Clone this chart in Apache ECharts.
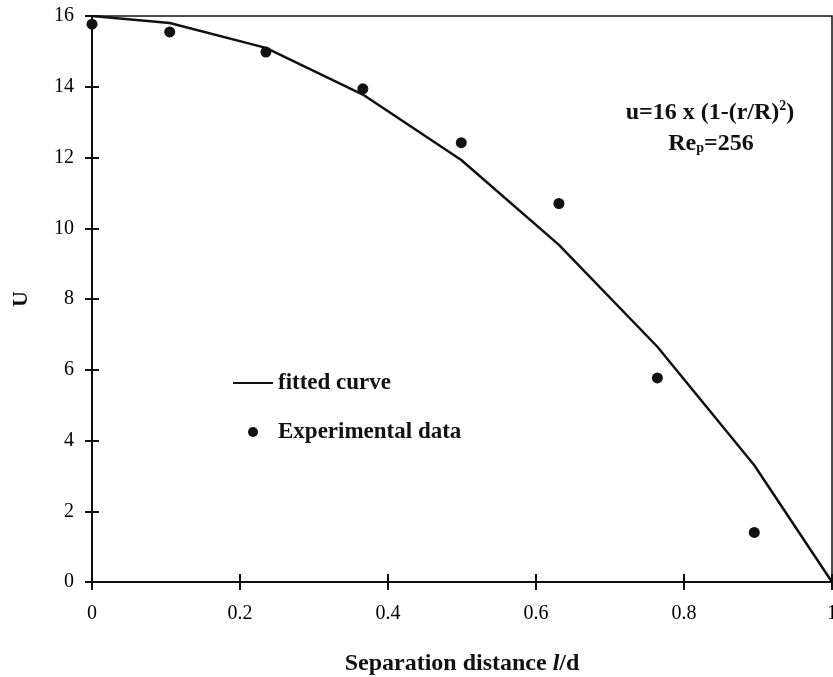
<!DOCTYPE html>
<html>
<head>
<meta charset="utf-8">
<script src="https://cdn.jsdelivr.net/npm/echarts@6/dist/echarts.min.js"></script>
<style>html,body{margin:0;padding:0;background:#fff;}#c{width:833px;height:677px;}</style>
</head>
<body>
<div id="c"></div>
<script>
// Data
var expX = [0, 0.105, 0.235, 0.366, 0.499, 0.631, 0.764, 0.895];
var expU = [15.77, 15.55, 14.98, 13.94, 12.42, 10.7, 5.77, 1.4];
var fitX = [0, 0.105, 0.235, 0.366, 0.499, 0.631, 0.764, 0.895, 1];
var fitU = [16, 15.8, 15.1, 13.78, 11.93, 9.53, 6.65, 3.3, 0];
var xTicks = [0, 0.2, 0.4, 0.6, 0.8, 1];
var yTicks = [0, 2, 4, 6, 8, 10, 12, 14, 16];

var serif = '"Liberation Serif", "Times New Roman", serif';
var expData = expX.map(function (x, i) { return [x, expU[i]]; });
var fitData = fitX.map(function (x, i) { return [x, fitU[i]]; });

var chart = echarts.init(document.getElementById('c'));
var tickLabelStyle = { color: '#000', fontFamily: serif, fontSize: 20 };
chart.setOption({
  backgroundColor: '#fff',
  animation: false,
  grid: { left: 92, right: 1, top: 16, bottom: 95, show: true, borderColor: '#111', borderWidth: 1.5,
          backgroundColor: 'transparent', containLabel: false, outerBoundsMode: 'none' },
  legend: {
    orient: 'vertical', left: 228, top: 366, itemGap: 25, itemWidth: 40, itemHeight: 10,
    textStyle: { fontFamily: serif, fontSize: 23, fontWeight: 'bold', color: '#111', lineHeight: 24 },
    data: [
      { name: 'fitted curve', icon: 'path://M0,0 L20,0 L20,1 L0,1 Z', itemStyle: { color: '#111', borderWidth: 0 } },
      { name: 'Experimental data', icon: 'circle', itemStyle: { color: '#111', opacity: 1 } }
    ]
  },
  xAxis: [{
    type: 'value', min: xTicks[0], max: xTicks[xTicks.length - 1], interval: 0.2,
    axisLine: { lineStyle: { color: '#111', width: 2 } },
    axisTick: { show: true, length: 8, lineStyle: { color: '#111', width: 2 } },
    splitLine: { show: false },
    axisLabel: Object.assign({ margin: 22 }, tickLabelStyle),
    name: '{a|Separation distance }{i|l}{a|/d}', nameLocation: 'middle', nameGap: 70,
    nameTextStyle: { rich: {
      a: { fontFamily: serif, fontSize: 24, fontWeight: 'bold', color: '#111' },
      i: { fontFamily: serif, fontSize: 24, fontWeight: 'bold', fontStyle: 'italic', color: '#111' }
    } }
  }, {
    type: 'value', min: xTicks[0], max: xTicks[xTicks.length - 1], interval: 0.2, position: 'bottom',
    axisLine: { show: false }, axisLabel: { show: false }, splitLine: { show: false },
    axisTick: { show: true, inside: true, length: 8, lineStyle: { color: '#111', width: 2 } }
  }],
  yAxis: [{
    type: 'value', min: yTicks[0], max: yTicks[yTicks.length - 1], interval: 2,
    axisLine: { lineStyle: { color: '#111', width: 2 } },
    axisTick: { show: true, length: 7, lineStyle: { color: '#111', width: 2 } },
    splitLine: { show: false },
    axisLabel: Object.assign({ margin: 18 }, tickLabelStyle),
    name: 'U', nameLocation: 'middle', nameGap: 60, nameRotate: 90,
    nameTextStyle: { fontFamily: serif, fontSize: 22, fontWeight: 'bold', color: '#111' }
  }, {
    type: 'value', min: yTicks[0], max: yTicks[yTicks.length - 1], interval: 2, position: 'left',
    axisLine: { show: false }, axisLabel: { show: false }, splitLine: { show: false },
    axisTick: { show: true, inside: true, length: 7, lineStyle: { color: '#111', width: 2 } }
  }],
  series: [{
    name: 'fitted curve', type: 'line', data: fitData, symbol: 'none', showSymbol: false,
    lineStyle: { color: '#111', width: 2.5 }, itemStyle: { color: '#111' }, z: 3
  }, {
    name: 'Experimental data', type: 'scatter', data: expData, symbol: 'circle', symbolSize: 11,
    itemStyle: { color: '#111', opacity: 1 }, z: 4
  }],
  graphic: [{
    type: 'text', x: 710, y: 113,
    style: {
      text: '{a|u=16 x (1-(r/R)}{s|2}{a|)}',
      align: 'center', verticalAlign: 'middle',
      rich: {
        a: { fontFamily: serif, fontSize: 24, fontWeight: 'bold', fill: '#111', lineHeight: 28 },
        s: { fontFamily: serif, fontSize: 14, fontWeight: 'bold', fill: '#111', verticalAlign: 'top', lineHeight: 28, padding: [0, 0, 10, 0] }
      }
    }
  }, {
    type: 'text', x: 711, y: 144,
    style: {
      text: '{a|Re}{s|p}{a|=256}',
      align: 'center', verticalAlign: 'middle',
      rich: {
        a: { fontFamily: serif, fontSize: 24, fontWeight: 'bold', fill: '#111', lineHeight: 28 },
        s: { fontFamily: serif, fontSize: 14, fontWeight: 'bold', fill: '#111', lineHeight: 28, padding: [8, 0, 0, 0] }
      }
    }
  }]
});
</script>
</body>
</html>
